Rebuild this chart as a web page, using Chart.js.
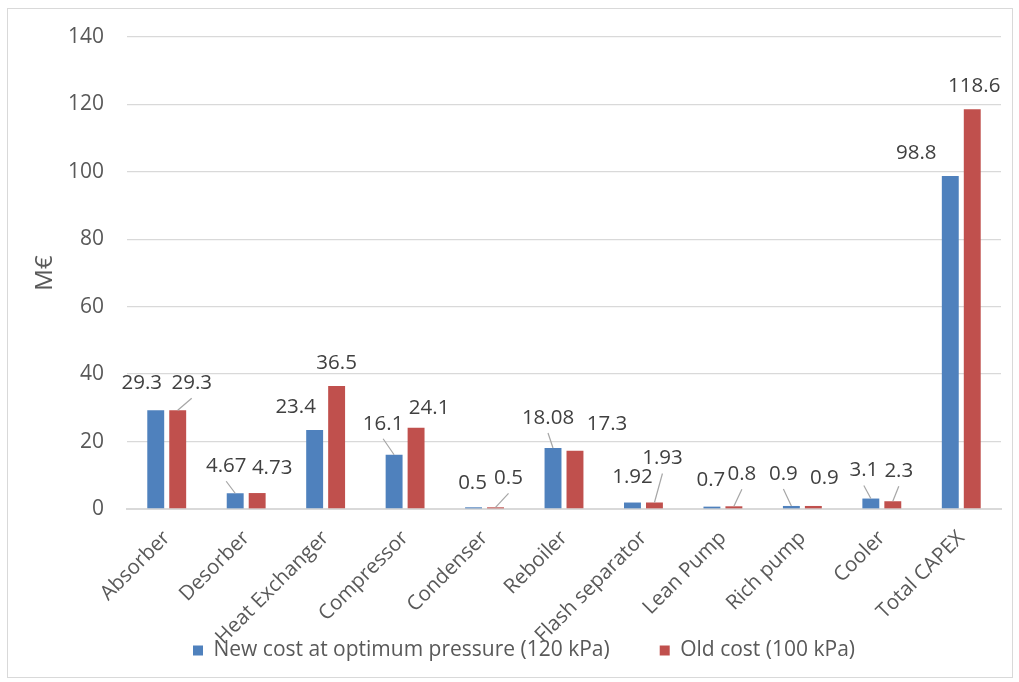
<!DOCTYPE html>
<html>
<head>
<meta charset="utf-8">
<script src="https://cdn.jsdelivr.net/npm/chart.js@4.4.1/dist/chart.umd.min.js"></script>
<style>
  html, body { margin: 0; padding: 0; background: #ffffff; }
  #wrap { position: relative; width: 1019px; height: 682px; }
  #c { position: absolute; left: 0; top: 0; }
  #frame { position: absolute; left: 7px; top: 8px; width: 1004px; height: 668px;
           border: 1px solid #d9d9d9; pointer-events: none; }
</style>
</head>
<body>
<div id="wrap">
  <canvas id="c" width="1019" height="682"></canvas>
  <div id="frame"></div>
</div>
<script>
// Equipment categories and cost per item (M€)
const categories = ['Absorber', 'Desorber', 'Heat Exchanger', 'Compressor', 'Condenser', 'Reboiler',
                    'Flash separator', 'Lean Pump', 'Rich pump', 'Cooler', 'Total CAPEX'];
const newCost = [29.3, 4.67, 23.4, 16.1, 0.5, 18.08, 1.92, 0.7, 0.9, 3.1, 98.8];
const oldCost = [29.3, 4.73, 36.5, 24.1, 0.5, 17.3, 1.93, 0.8, 0.9, 2.3, 118.6];
const seriesNames = ['New cost at optimum pressure (120 kPa)', 'Old cost (100 kPa)'];
const yTicks = [0, 20, 40, 60, 80, 100, 120, 140];
const yTitle = 'M€';

// Value-label placement relative to each bar top: [dx, dy, leader line]
const newLabelPos = [[-14, -28, false], [-9, -28, true], [-19, -24, false], [-11, -32, true],
                     [-1, -25, false], [-5, -31, true], [0, -26, false], [-1, -27, false],
                     [-8, -33, true], [-7, -29, true], [-34, -24, false]];
const oldLabelPos = [[14, -28, true], [15, -26, false], [0, -24, false], [13, -21, false],
                     [13, -30, true], [32, -28, false], [8, -45, true], [8, -33, true],
                     [11, -29, false], [6, -31, true], [2, -24, false]];

const FONT = '"Open Sans", "Noto Sans", sans-serif';
Chart.defaults.font.family = FONT;

// Draws the value labels, with leader lines for the ones pulled away from their bar
const valueLabels = {
  id: 'valueLabels',
  afterDatasetsDraw(chart) {
    const ctx = chart.ctx;
    ctx.save();
    ctx.font = '20.5px ' + FONT;
    ctx.textAlign = 'center';
    ctx.textBaseline = 'middle';
    const placements = [newLabelPos, oldLabelPos];
    chart.data.datasets.forEach((ds, di) => {
      const meta = chart.getDatasetMeta(di);
      meta.data.forEach((bar, i) => {
        const [dx, dy, leader] = placements[di][i];
        const lx = bar.x + dx;
        const ly = bar.y + dy;
        if (leader) {
          ctx.strokeStyle = '#a6a6a6';
          ctx.lineWidth = 1.2;
          ctx.beginPath();
          ctx.moveTo(lx, ly + 16);
          ctx.lineTo(bar.x, bar.y);
          ctx.stroke();
        }
        ctx.fillStyle = '#404040';
        ctx.fillText(String(ds.data[i]), lx, ly + 1);
      });
    });
    ctx.restore();
  }
};

new Chart(document.getElementById('c'), {
  type: 'bar',
  data: {
    labels: categories,
    datasets: [
      { label: seriesNames[0], data: newCost, backgroundColor: '#4f81bd', borderWidth: 0,
        categoryPercentage: 0.553, barPercentage: 0.77 },
      { label: seriesNames[1], data: oldCost, backgroundColor: '#c0504d', borderWidth: 0,
        categoryPercentage: 0.553, barPercentage: 0.77 }
    ]
  },
  options: {
    responsive: false,
    animation: false,
    devicePixelRatio: 1,
    layout: { padding: { left: 47, right: 18, top: 37, bottom: 11 } },
    plugins: {
      legend: {
        position: 'bottom',
        labels: { boxWidth: 10, boxHeight: 10, padding: 50, color: '#595959',
                  font: { size: 21, family: FONT } }
      },
      tooltip: { enabled: false }
    },
    scales: {
      x: {
        grid: { display: false, drawTicks: false },
        border: { display: true, color: '#d9d9d9', width: 2 },
        ticks: { color: '#595959', font: { size: 20.5, family: FONT }, maxRotation: 45, minRotation: 45,
                 autoSkip: false, padding: 17 },
        afterFit(scale) {
          scale.height = 81;
          // rotated category names run down past the axis box into the legend band
          scale._computeLabelArea = () => undefined;
        }
      },
      y: {
        min: yTicks[0],
        max: yTicks[yTicks.length - 1],
        afterBuildTicks(scale) { scale.ticks = yTicks.map(v => ({ value: v })); },
        grid: { color: '#d9d9d9', lineWidth: 1.3, drawTicks: false },
        border: { display: false },
        ticks: { color: '#595959', font: { size: 21, family: FONT }, padding: 23 },
        title: { display: true, text: yTitle, color: '#595959', font: { size: 24, family: FONT },
                 padding: { top: -16, bottom: 0 } },
        afterFit(scale) { scale.width = 80; }
      }
    }
  },
  plugins: [valueLabels]
});
</script>
</body>
</html>
